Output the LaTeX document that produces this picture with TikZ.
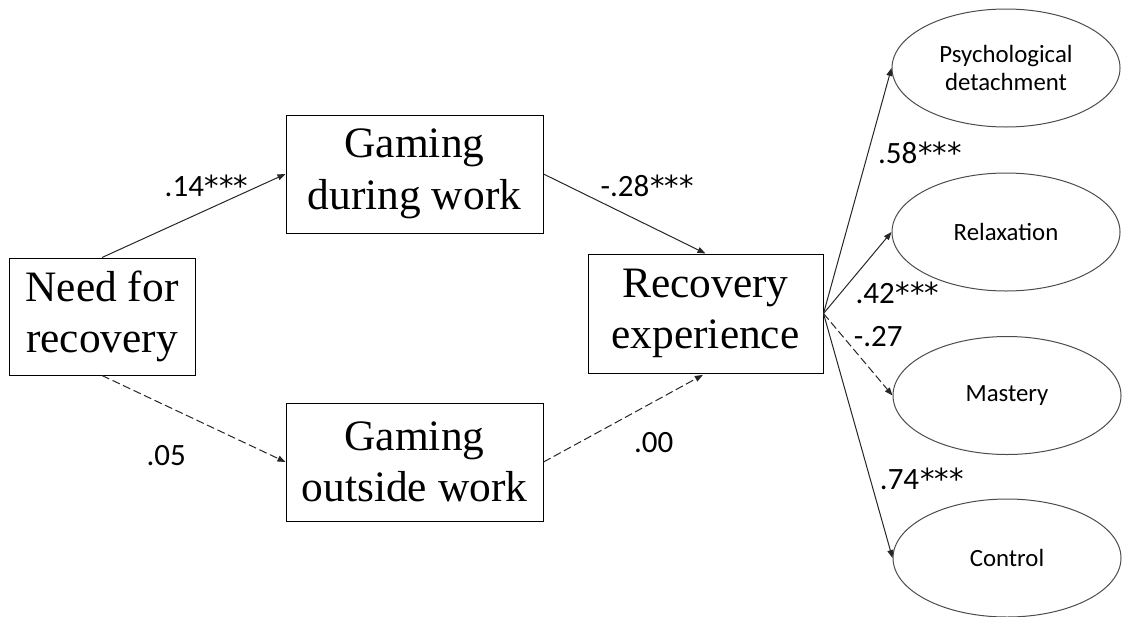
\documentclass[tikz,border=0pt]{standalone}
\usepackage{fontspec}
\setmainfont{Liberation Serif}
\newfontfamily\calib{Carlito}
\newfontfamily\astfont{DejaVu Sans}
\newcommand{\sig}{{\astfont\fontsize{14.5}{18}\selectfont\kern.5pt***}}
\usetikzlibrary{arrows.meta, shapes.geometric, positioning}
\tikzset{%
  >={Triangle[width=3pt,length=4pt]},
  % Specifications for style of nodes:
        box/.style = {rectangle, draw=black, line width=.5pt,
                           inner sep=0pt, align=center,
                           font=\fontsize{21.7}{25.8}\selectfont},
        factor/.style = {ellipse, draw=black!70, line width=.5pt,
                           minimum width=114pt, minimum height=59pt,
                           inner sep=0pt, align=center,
                           font=\calib\fontsize{12.4}{14}\selectfont},
        lab/.style = {inner sep=0pt, font=\calib\fontsize{15.5}{18}\selectfont},
        line/.style = {draw=black!85, line width=.5pt, ->},
        dline/.style = {line, dash pattern=on 4pt off 1.8pt}
}

\begin{document}
\begin{tikzpicture}[x=0.5pt, y=-0.5pt]
  \useasboundingbox (0,0) rectangle (1123,616);
  % Specification of nodes (position, etc.)
    \node (need)     [box, minimum width=93pt, minimum height=58.5pt]
                     at (102,316.5) {Need for\\recovery};
    \node (during)   [box, minimum width=128.5pt, minimum height=59pt]
                     at (414.5,174) {Gaming\\during work};
    \node (outside)  [box, minimum width=128.5pt, minimum height=59pt]
                     at (414.5,462) {Gaming\\outside work};
    \node (recovery) [box, minimum width=117.5pt, minimum height=59.5pt]
                     at (705.5,313.5) {Recovery\\experience};
    \node (detach)   [factor] at (1006,68) {Psychological\\detachment};
    \node (relax)    [factor] at (1006,232) {Relaxation};
    \node (mastery)  [factor] at (1007,395.5) {Mastery};
    \node (control)  [factor] at (1007,558) {Control};

  % Specification of lines between nodes specified above
  % with the path coefficients
  \draw[line]  (need.north) -- node[lab, pos=.57, yshift=12pt]{.14\sig} (during.west);
  \draw[dline] (need.south) -- node[lab, pos=.35, yshift=-25pt]{.05} (outside.west);
  \draw[line]  (during.east) -- node[lab, pos=.64, yshift=19.5pt]{-.28\sig} (recovery.north);
  \draw[dline, shorten >=1.5pt] (outside.east) -- node[lab, pos=.68, yshift=-20.5pt]{.00} (recovery.south);
  \draw[line]  (recovery.east) -- node[lab, pos=.654, xshift=26pt]{.58\sig} (detach.west);
  \draw[line]  (recovery.east) -- node[lab, pos=.25, xshift=28.5pt]{.42\sig} (relax.west);
  \draw[dline] (recovery.east) -- node[lab, pos=.287, xshift=17.5pt]{-.27} (mastery.west);
  \draw[line]  (recovery.east) -- node[lab, pos=.677, xshift=25.8pt]{.74\sig} (control.west);
\end{tikzpicture}
\end{document}
